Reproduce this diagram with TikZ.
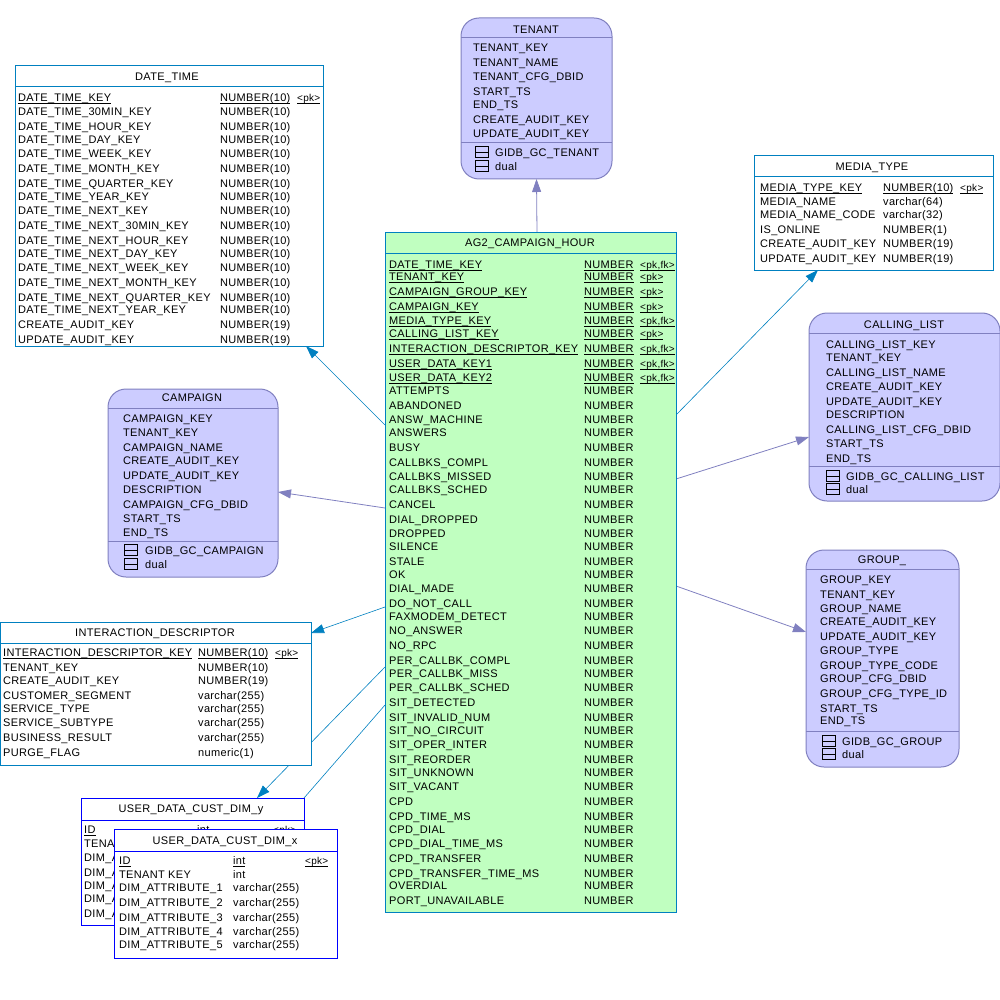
\documentclass[tikz,border=0pt]{standalone}
\usepackage{fontspec}
\setmainfont[LetterSpace=3]{Liberation Sans}
\usetikzlibrary{arrows.meta,backgrounds}

\definecolor{viewfill}{HTML}{CCCCFF}
\definecolor{viewline}{HTML}{8080C0}
\definecolor{factfill}{HTML}{C0FFC0}
\definecolor{tableline}{HTML}{0080C0}
\definecolor{dimline}{HTML}{0000FF}

\newcommand{\keytext}[1]{\underline{\smash{#1}}}
\newcommand{\tableicon}[2]{\draw[black, line width=0.7pt] (#1,#2-5.5) rectangle (#1+13,#2+5.5) (#1,#2) -- (#1+13,#2);}

\tikzset{
    coltext/.style={anchor=west, inner sep=0pt, yshift=-0.7pt, text height=8pt, text depth=0pt, font=\fontsize{11}{12}\selectfont, text=black},
    tagtext/.style={coltext, font=\fontsize{10}{12}\selectfont},
    titletext/.style={coltext, anchor=center},
    tablebox/.style={draw=tableline, fill=white, line width=1pt, inner sep=0pt, outer sep=0pt},
    factbox/.style={tablebox, fill=factfill},
    dimbox/.style={tablebox, draw=dimline},
    viewbox/.style={tablebox, draw=viewline, fill=viewfill, rounded corners=18pt},
    bluelink/.style={draw=tableline, line width=0.6pt, -{Triangle[length=13pt,width=9pt]}},
    purplelink/.style={draw=viewline, line width=0.8pt, -{Triangle[length=13pt,width=9pt]}},
}

\begin{document}
\begin{tikzpicture}[x=1pt,y=-1pt]
    \useasboundingbox (0,0) rectangle (1000,1000);

    % Table DATE_TIME
    \node[tablebox, minimum width=308pt, minimum height=280pt] (datetime) at (169,206) {};
    \node[titletext] (datetime title) at (167,76) {DATE\_TIME};
    \draw[tableline, line width=1pt] (datetime.west |- 0,87) -- (datetime.east |- 0,87);
    \node[coltext] (datetime pkname) at (18,97) {\keytext{DATE\_TIME\_KEY}};
    \node[coltext] (datetime pktype) at (220,97) {\keytext{NUMBER(10)}};
    \node[tagtext] (datetime pktag) at (297,97) {\keytext{<pk>}};
    \foreach \ypos/\colname/\coltype in {
        111/DATE\_TIME\_30MIN\_KEY/NUMBER(10), 126/DATE\_TIME\_HOUR\_KEY/NUMBER(10),
        139/DATE\_TIME\_DAY\_KEY/NUMBER(10), 153/DATE\_TIME\_WEEK\_KEY/NUMBER(10),
        168/DATE\_TIME\_MONTH\_KEY/NUMBER(10), 183/DATE\_TIME\_QUARTER\_KEY/NUMBER(10),
        196/DATE\_TIME\_YEAR\_KEY/NUMBER(10), 210/DATE\_TIME\_NEXT\_KEY/NUMBER(10),
        225/DATE\_TIME\_NEXT\_30MIN\_KEY/NUMBER(10), 240/DATE\_TIME\_NEXT\_HOUR\_KEY/NUMBER(10),
        253/DATE\_TIME\_NEXT\_DAY\_KEY/NUMBER(10), 267/DATE\_TIME\_NEXT\_WEEK\_KEY/NUMBER(10),
        282/DATE\_TIME\_NEXT\_MONTH\_KEY/NUMBER(10), 297/DATE\_TIME\_NEXT\_QUARTER\_KEY/NUMBER(10),
        309/DATE\_TIME\_NEXT\_YEAR\_KEY/NUMBER(10), 324/CREATE\_AUDIT\_KEY/NUMBER(19),
        339/UPDATE\_AUDIT\_KEY/NUMBER(19)} {
        \node[coltext] (datetime name \ypos) at (18,\ypos) {\colname};
        \node[coltext] (datetime type \ypos) at (220,\ypos) {\coltype};
    }

    % View TENANT
    \node[viewbox, minimum width=151pt, minimum height=161pt] (tenant) at (536.5,98.5) {};
    \node[titletext] (tenant title) at (536,29) {TENANT};
    \draw[viewline, line width=1pt] (tenant.west |- 0,38) -- (tenant.east |- 0,38);
    \draw[viewline, line width=1pt] (tenant.west |- 0,143) -- (tenant.east |- 0,143);
    \foreach \ypos/\colname in {47/TENANT\_KEY, 62/TENANT\_NAME, 76/TENANT\_CFG\_DBID, 91/START\_TS,
        104/END\_TS, 119/CREATE\_AUDIT\_KEY, 133/UPDATE\_AUDIT\_KEY} {
        \node[coltext] (tenant name \ypos) at (473,\ypos) {\colname};
    }
    \tableicon{475}{152}
    \tableicon{475}{166}
    \node[coltext] (tenant source) at (495,152) {GIDB\_GC\_TENANT};
    \node[coltext] (tenant dual) at (495,166) {dual};

    % Table MEDIA_TYPE
    \node[tablebox, minimum width=239pt, minimum height=114pt] (media) at (873.5,213) {};
    \node[titletext] (media title) at (872,166) {MEDIA\_TYPE};
    \draw[tableline, line width=1pt] (media.west |- 0,177) -- (media.east |- 0,177);
    \node[coltext] (media pkname) at (760,187) {\keytext{MEDIA\_TYPE\_KEY}};
    \node[coltext] (media pktype) at (883,187) {\keytext{NUMBER(10)}};
    \node[tagtext] (media pktag) at (960,187) {\keytext{<pk>}};
    \foreach \ypos/\colname/\coltype in {201/MEDIA\_NAME/varchar(64), 214/MEDIA\_NAME\_CODE/varchar(32),
        229/IS\_ONLINE/NUMBER(1), 243/CREATE\_AUDIT\_KEY/NUMBER(19), 258/UPDATE\_AUDIT\_KEY/NUMBER(19)} {
        \node[coltext] (media name \ypos) at (760,\ypos) {\colname};
        \node[coltext] (media type \ypos) at (883,\ypos) {\coltype};
    }

    % View CALLING_LIST
    \node[viewbox, minimum width=191pt, minimum height=188pt] (calling) at (904.5,407) {};
    \node[titletext] (calling title) at (904,324) {CALLING\_LIST};
    \draw[viewline, line width=1pt] (calling.west |- 0,333) -- (calling.east |- 0,333);
    \draw[viewline, line width=1pt] (calling.west |- 0,466) -- (calling.east |- 0,466);
    \foreach \ypos/\colname in {344/CALLING\_LIST\_KEY, 357/TENANT\_KEY, 372/CALLING\_LIST\_NAME,
        386/CREATE\_AUDIT\_KEY, 401/UPDATE\_AUDIT\_KEY, 414/DESCRIPTION, 429/CALLING\_LIST\_CFG\_DBID,
        443/START\_TS, 458/END\_TS} {
        \node[coltext] (calling name \ypos) at (826,\ypos) {\colname};
    }
    \tableicon{826}{476}
    \tableicon{826}{489}
    \node[coltext] (calling source) at (846,476) {GIDB\_GC\_CALLING\_LIST};
    \node[coltext] (calling dual) at (846,489) {dual};

    % View CAMPAIGN
    \node[viewbox, minimum width=170pt, minimum height=188pt] (campaign) at (193,483) {};
    \node[titletext] (campaign title) at (192,397) {CAMPAIGN};
    \draw[viewline, line width=1pt] (campaign.west |- 0,408) -- (campaign.east |- 0,408);
    \draw[viewline, line width=1pt] (campaign.west |- 0,541) -- (campaign.east |- 0,541);
    \foreach \ypos/\colname in {418/CAMPAIGN\_KEY, 432/TENANT\_KEY, 447/CAMPAIGN\_NAME,
        460/CREATE\_AUDIT\_KEY, 475/UPDATE\_AUDIT\_KEY, 489/DESCRIPTION, 504/CAMPAIGN\_CFG\_DBID,
        518/START\_TS, 532/END\_TS} {
        \node[coltext] (campaign name \ypos) at (123,\ypos) {\colname};
    }
    \tableicon{124}{550}
    \tableicon{124}{564}
    \node[coltext] (campaign source) at (145,550) {GIDB\_GC\_CAMPAIGN};
    \node[coltext] (campaign dual) at (145,564) {dual};

    % View GROUP_
    \node[viewbox, minimum width=153pt, minimum height=217pt] (group) at (882.5,658.5) {};
    \node[titletext] (group title) at (882,559) {GROUP\_};
    \draw[viewline, line width=1pt] (group.west |- 0,569) -- (group.east |- 0,569);
    \draw[viewline, line width=1pt] (group.west |- 0,731) -- (group.east |- 0,731);
    \foreach \ypos/\colname in {579/GROUP\_KEY, 594/TENANT\_KEY, 608/GROUP\_NAME, 621/CREATE\_AUDIT\_KEY,
        636/UPDATE\_AUDIT\_KEY, 650/GROUP\_TYPE, 665/GROUP\_TYPE\_CODE, 678/GROUP\_CFG\_DBID,
        693/GROUP\_CFG\_TYPE\_ID, 708/START\_TS, 720/END\_TS} {
        \node[coltext] (group name \ypos) at (820,\ypos) {\colname};
    }
    \tableicon{822}{741}
    \tableicon{822}{754}
    \node[coltext] (group source) at (842,741) {GIDB\_GC\_GROUP};
    \node[coltext] (group dual) at (842,754) {dual};

    % Table INTERACTION_DESCRIPTOR
    \node[tablebox, minimum width=311pt, minimum height=143pt] (interaction) at (155.5,693.5) {};
    \node[titletext] (interaction title) at (155,632) {INTERACTION\_DESCRIPTOR};
    \draw[tableline, line width=1pt] (interaction.west |- 0,643) -- (interaction.east |- 0,643);
    \node[coltext] (interaction pkname) at (3,652) {\keytext{INTERACTION\_DESCRIPTOR\_KEY}};
    \node[coltext] (interaction pktype) at (198,652) {\keytext{NUMBER(10)}};
    \node[tagtext] (interaction pktag) at (275,652) {\keytext{<pk>}};
    \foreach \ypos/\colname/\coltype in {667/TENANT\_KEY/NUMBER(10), 680/CREATE\_AUDIT\_KEY/NUMBER(19),
        695/CUSTOMER\_SEGMENT/varchar(255), 708/SERVICE\_TYPE/varchar(255), 722/SERVICE\_SUBTYPE/varchar(255),
        737/BUSINESS\_RESULT/varchar(255), 752/PURGE\_FLAG/numeric(1)} {
        \node[coltext] (interaction name \ypos) at (3,\ypos) {\colname};
        \node[coltext] (interaction type \ypos) at (198,\ypos) {\coltype};
    }

    % Table USER_DATA_CUST_DIM_y, mostly behind the next one
    \node[dimbox, minimum width=223pt, minimum height=127pt] (dimy) at (192.5,861.5) {};
    \node[titletext] (dimy title) at (191,808) {USER\_DATA\_CUST\_DIM\_y};
    \draw[dimline, line width=1pt] (dimy.west |- 0,820) -- (dimy.east |- 0,820);
    \node[coltext] (dimy pkname) at (84,829) {\keytext{ID}};
    \node[coltext] (dimy pktype) at (197,829) {\keytext{int}};
    \node[tagtext] (dimy pktag) at (273,829) {\keytext{<pk>}};
    \node[coltext] (dimy keyname) at (84,843) {TENA};
    \foreach \ypos in {857,872,885,898,913} {
        \node[coltext] (dimy name \ypos) at (84,\ypos) {DIM\_A};
    }

    % Table USER_DATA_CUST_DIM_x
    \node[dimbox, minimum width=223pt, minimum height=129pt] (dimx) at (225.5,893.5) {};
    \node[titletext] (dimx title) at (225,840) {USER\_DATA\_CUST\_DIM\_x};
    \draw[dimline, line width=1pt] (dimx.west |- 0,851) -- (dimx.east |- 0,851);
    \node[coltext] (dimx pkname) at (119,860) {\keytext{ID}};
    \node[coltext] (dimx pktype) at (233,860) {\keytext{int}};
    \node[tagtext] (dimx pktag) at (305,860) {\keytext{<pk>}};
    \node[coltext] (dimx keyname) at (119,874) {TENANT KEY};
    \node[coltext] (dimx keytype) at (233,874) {int};
    \foreach \ypos/\colnum in {887/1, 902/2, 917/3, 931/4, 944/5} {
        \node[coltext] (dimx name \ypos) at (119,\ypos) {DIM\_ATTRIBUTE\_\colnum};
        \node[coltext] (dimx type \ypos) at (233,\ypos) {varchar(255)};
    }

    % Fact table AG2_CAMPAIGN_HOUR
    \node[factbox, minimum width=291pt, minimum height=679pt] (hour) at (530.5,572.5) {};
    \node[titletext] (hour title) at (530,242) {AG2\_CAMPAIGN\_HOUR};
    \draw[tableline, line width=1pt] (hour.west |- 0,253) -- (hour.east |- 0,253);
    \foreach \ypos/\colname/\coltag in {
        264/DATE\_TIME\_KEY/{<pk,fk>}, 276/TENANT\_KEY/{<pk>}, 291/CAMPAIGN\_GROUP\_KEY/{<pk>},
        306/CAMPAIGN\_KEY/{<pk>}, 320/MEDIA\_TYPE\_KEY/{<pk,fk>}, 333/CALLING\_LIST\_KEY/{<pk>},
        348/INTERACTION\_DESCRIPTOR\_KEY/{<pk,fk>}, 363/USER\_DATA\_KEY1/{<pk,fk>}, 377/USER\_DATA\_KEY2/{<pk,fk>}} {
        \node[coltext] (hour name \ypos) at (389,\ypos) {\keytext{\colname}};
        \node[coltext] (hour type \ypos) at (584,\ypos) {\keytext{NUMBER}};
        \node[tagtext] (hour tag \ypos) at (640,\ypos) {\keytext{\coltag}};
    }
    \foreach \ypos/\colname in {
        390/ATTEMPTS, 405/ABANDONED, 419/ANSW\_MACHINE, 432/ANSWERS, 447/BUSY, 462/CALLBKS\_COMPL,
        476/CALLBKS\_MISSED, 489/CALLBKS\_SCHED, 504/CANCEL, 519/DIAL\_DROPPED, 533/DROPPED, 546/SILENCE,
        561/STALE, 574/OK, 588/DIAL\_MADE, 603/DO\_NOT\_CALL, 616/FAXMODEM\_DETECT, 630/NO\_ANSWER,
        645/NO\_RPC, 660/PER\_CALLBK\_COMPL, 673/PER\_CALLBK\_MISS, 687/PER\_CALLBK\_SCHED, 702/SIT\_DETECTED,
        717/SIT\_INVALID\_NUM, 730/SIT\_NO\_CIRCUIT, 744/SIT\_OPER\_INTER, 759/SIT\_REORDER, 772/SIT\_UNKNOWN,
        786/SIT\_VACANT, 801/CPD, 816/CPD\_TIME\_MS, 829/CPD\_DIAL, 843/CPD\_DIAL\_TIME\_MS, 858/CPD\_TRANSFER,
        873/CPD\_TRANSFER\_TIME\_MS, 885/OVERDIAL, 900/PORT\_UNAVAILABLE} {
        \node[coltext] (hour name \ypos) at (389,\ypos) {\colname};
        \node[coltext] (hour type \ypos) at (584,\ypos) {NUMBER};
    }

    % References, behind the tables
    \begin{pgfonlayer}{background}
        \draw[purplelink] (hour.north -| 537,0) -- (tenant.south);
        \draw[bluelink] (hour.west |- 0,425) -- (datetime.south -| 306,0);
        \draw[bluelink] (hour.east |- 0,415) -- (media.south -| 818,0);
        \draw[purplelink] (hour.east |- 0,479) -- (calling.west |- 0,437);
        \draw[purplelink] (hour.west |- 0,508) -- (campaign.east |- 0,492);
        \draw[purplelink] (hour.east |- 0,586) -- (group.west |- 0,632);
        \draw[bluelink] (hour.west |- 0,607) -- (interaction.east |- 0,633);
        \draw[bluelink] (hour.west |- 0,667) -- (dimy.north -| 257,0);
        \draw[bluelink] (hour.west |- 0,705) -- (dimx.north -| 277,0);
    \end{pgfonlayer}
\end{tikzpicture}
\end{document}
